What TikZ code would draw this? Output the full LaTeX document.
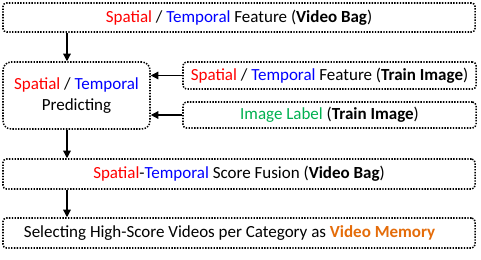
\documentclass[tikz,border=0pt]{standalone}
\usepackage{fontspec}
\setmainfont{Carlito}
\usetikzlibrary{arrows.meta}

\definecolor{spred}{RGB}{255,0,0}
\definecolor{tpblue}{RGB}{0,0,255}
\definecolor{lblgreen}{RGB}{0,176,80}
\definecolor{memorange}{RGB}{228,108,10}

\tikzset{
  stage/.style={draw, line width=1.3pt, dash pattern=on 1.2pt off 1.2pt,
    rounded corners=3pt, inner sep=0pt, font=\fontsize{14.5}{17.5}\selectfont},
  flow/.style={line width=1.1pt, -{Triangle[length=6.5pt,width=6.5pt]}}
}
\newcommand{\spat}[1]{\textcolor{spred}{#1}}
\newcommand{\temp}[1]{\textcolor{tpblue}{#1}}

\begin{document}
\begin{tikzpicture}[x=0.03cm, y=-0.03cm]
  \useasboundingbox (0,0) rectangle (481,260);

  % left column
  \node[stage, minimum width=14.16cm, minimum height=0.87cm] (vid) at (239,17.5)
    {\spat{Spatial} / \temp{Temporal} Feature (\textbf{Video Bag})};
  \node[stage, rounded corners=7pt, minimum width=4.41cm, minimum height=2.01cm,
    align=center] (pred) at (76.5,95.5)
    {\spat{Spatial} / \temp{Temporal}\\Predicting};
  \node[stage, minimum width=14.16cm, minimum height=0.9cm] (fuse) at (239,174)
    {\spat{Spatial}-\temp{Temporal} Score Fusion (\textbf{Video Bag})};
  \node[stage, minimum width=14.16cm, minimum height=0.9cm] (mem) at (239,233)
    {Selecting High-Score Videos per Category as \textcolor{memorange}{\textbf{Video Memory}}\kern16pt};

  % training inputs
  \node[stage, minimum width=8.79cm, minimum height=0.81cm] (feat) at (329.5,75.5)
    {\spat{Spatial} / \temp{Temporal} Feature (\textbf{Train Image})};
  \node[stage, minimum width=8.79cm, minimum height=0.78cm] (lbl) at (329.5,115)
    {\textcolor{lblgreen}{Image Label} (\textbf{Train Image})};

  \coordinate (col) at (67,0);
  \draw[flow] (vid.south -| col) -- (pred.north -| col);
  \draw[flow] (pred.south -| col) -- (fuse.north -| col);
  \draw[flow] (fuse.south -| col) -- (mem.north -| col);
  \draw[flow] (feat.west) -- (feat.west -| pred.east);
  \draw[flow] (lbl.west) -- (lbl.west -| pred.east);
\end{tikzpicture}
\end{document}
